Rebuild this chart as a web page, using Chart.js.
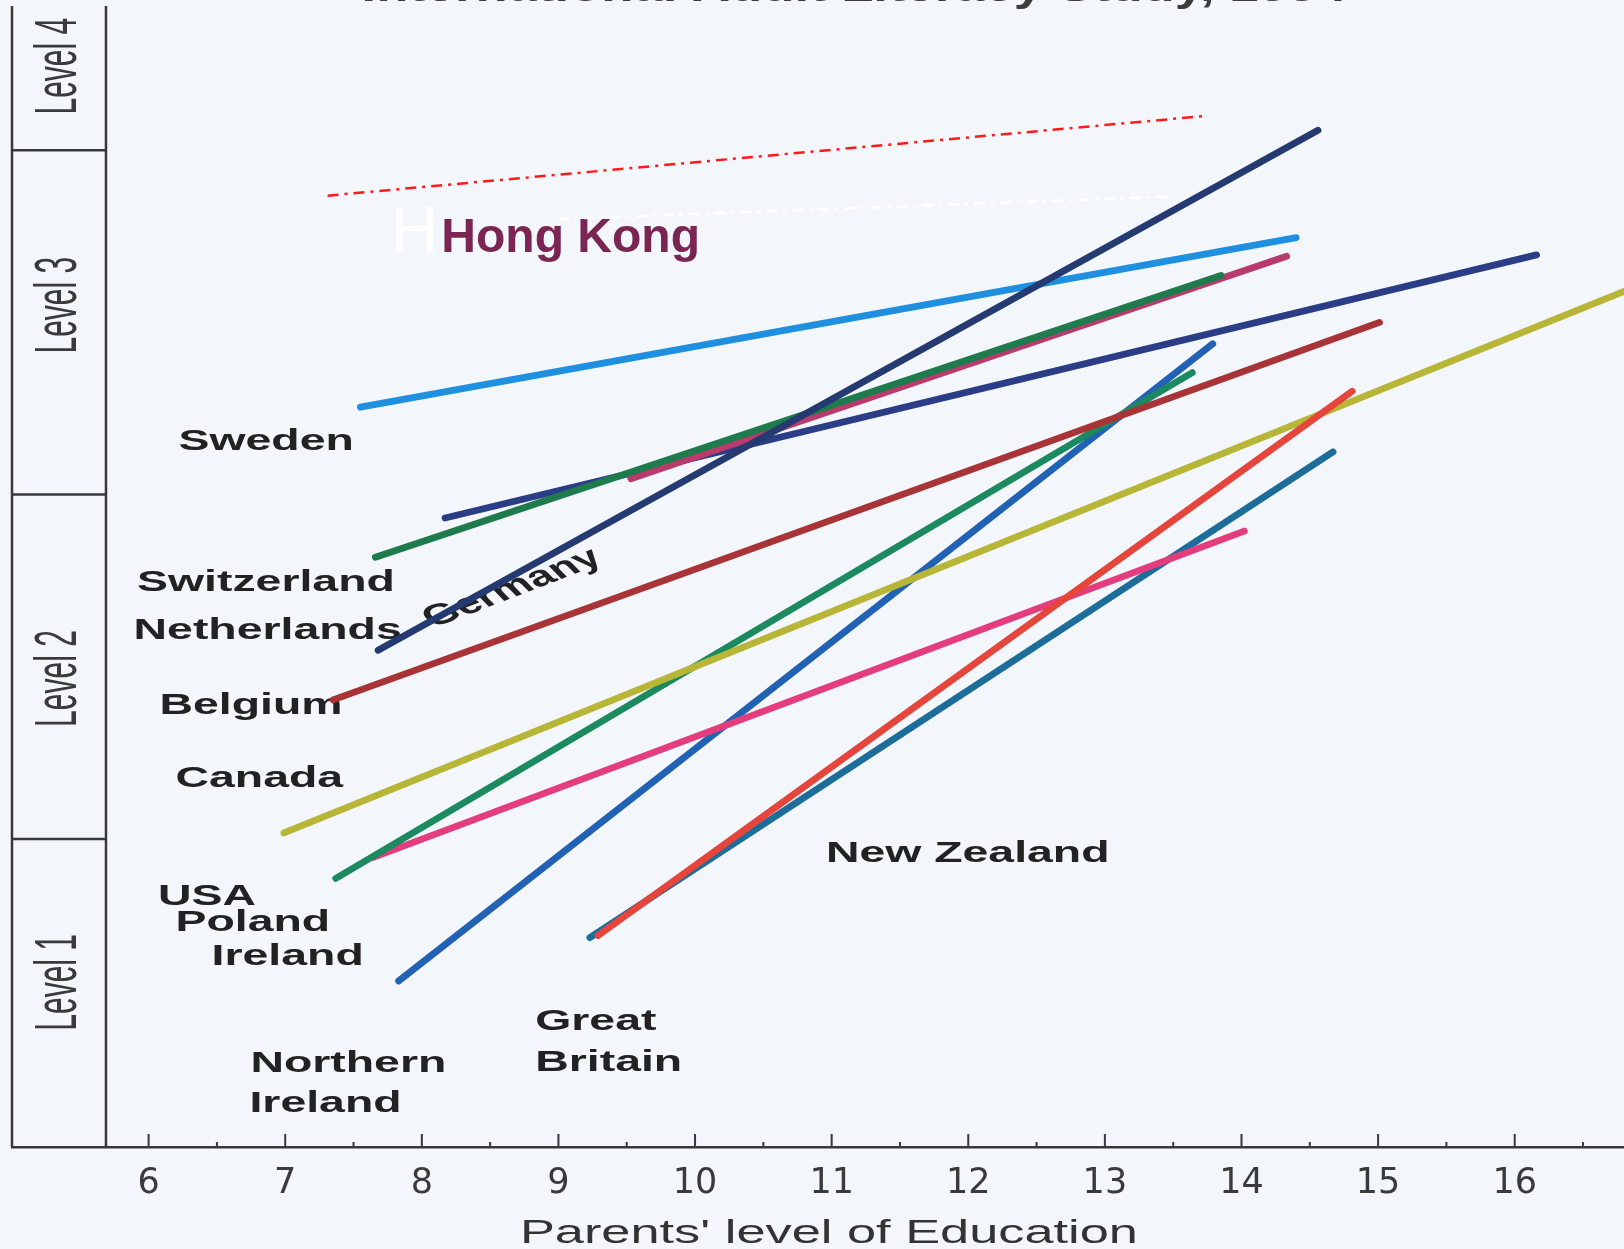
<!DOCTYPE html>
<html>
<head>
<meta charset="utf-8">
<title>Literacy by parents' education</title>
<script src="https://cdn.jsdelivr.net/npm/chart.js@4.4.1/dist/chart.umd.min.js"></script>
<style>
  html, body { margin: 0; padding: 0; background: #f3f6fb; overflow: hidden; }
  #wrap { width: 1624px; height: 1249px; }
</style>
</head>
<body>
<div id="wrap"><canvas id="chart-area"></canvas></div>
<script>
// one straight gradient line per country
// x = parents' years of education, y = literacy score (levels cut at 225 / 275 / 325)
var countries = ['Germany', 'Sweden', 'Switzerland', 'New Zealand', 'Netherlands', 'Belgium',
                 'Great Britain', 'Canada', 'USA', 'Poland', 'Ireland', 'Northern Ireland'];
var startX = [7.68, 7.55, 7.66, 9.53, 8.17, 7.35, 9.29, 6.99, 7.37, 7.64, 7.83, 9.23];
var startY = [252.4, 287.7, 265.9, 277.3, 271.6, 245.2, 211.0, 225.9, 219.3, 222.3, 204.4, 210.7];
var endX = [14.56, 14.40, 13.85, 14.33, 16.16, 15.01, 14.81, 16.85, 13.64, 14.02, 13.79, 14.67];
var endY = [327.9, 312.3, 306.8, 309.6, 309.8, 300.0, 290.0, 304.9, 292.7, 269.7, 296.9, 281.2];

// Hong Kong, added later as a dash-dot line, and a faint white trace below it
var hkX = [7.31, 13.75];
var hkY = [318.4, 330.0];
var traceX = [9.0, 13.5];
var traceY = [315.0, 318.3];

var xTicks = [6, 7, 8, 9, 10, 11, 12, 13, 14, 15, 16];
var levelNames = ['Level 1', 'Level 2', 'Level 3', 'Level 4'];
var levelCuts = [225, 275, 325];

var lineColors = ['#243a70', '#1f8fe0', '#1e7b4c', '#b93a6c', '#2b3d86', '#a93438',
                  '#e5453b', '#b7b637', '#1b8a5e', '#e53c7e', '#2262b5', '#1d6d9b'];

function seg(xs, ys) {
  return xs.map(function (v, i) { return { x: v, y: ys[i] }; });
}

var datasets = countries.map(function (name, i) {
  return {
    label: name,
    data: seg([startX[i], endX[i]], [startY[i], endY[i]]),
    borderColor: lineColors[i],
    borderWidth: 6.8,
    borderCapStyle: 'round',
    pointRadius: 0,
    tension: 0
  };
});
datasets.push({
  label: 'Hong Kong',
  data: seg(hkX, hkY),
  borderColor: '#ff1a1a',
  borderWidth: 2.5,
  borderDash: [11, 6, 3, 6],
  pointRadius: 0
});
datasets.push({
  label: 'trace',
  data: seg(traceX, traceY),
  borderColor: '#ffffff',
  borderWidth: 2.5,
  borderDash: [11, 6, 3, 6],
  pointRadius: 0
});

// free-floating country names (left edge, vertical middle, in data units)
var notes = [
  { t: 'Sweden', x: 6.219, y: 282.6 },
  { t: 'Switzerland', x: 5.915, y: 262.2 },
  { t: 'Netherlands', x: 5.890, y: 255.2 },
  { t: 'Belgium', x: 6.080, y: 244.3 },
  { t: 'Canada', x: 6.197, y: 233.7 },
  { t: 'USA', x: 6.069, y: 216.6 },
  { t: 'Poland', x: 6.197, y: 212.8 },
  { t: 'Ireland', x: 6.461, y: 207.9 },
  { t: 'Northern', x: 6.745, y: 192.3 },
  { t: 'Ireland', x: 6.738, y: 186.5 },
  { t: 'Great', x: 8.830, y: 198.4 },
  { t: 'Britain', x: 8.830, y: 192.5 },
  { t: 'New Zealand', x: 10.958, y: 222.9 }
];
var levelMid = [204.2, 248.3, 302.5, 337.2];

function drawText(ctx, txt, px, py, opt) {
  ctx.save();
  ctx.font = opt.font;
  ctx.fillStyle = opt.color;
  ctx.textAlign = opt.align || 'left';
  ctx.textBaseline = opt.base || 'middle';
  ctx.translate(px, py);
  var sx = opt.width ? opt.width / ctx.measureText(txt).width : (opt.sx || 1);
  ctx.scale(sx, 1);
  if (opt.rot) ctx.rotate(opt.rot);
  ctx.fillText(txt, 0, 0);
  ctx.restore();
}

var decor = {
  id: 'decor',
  beforeDraw: function (chart) {
    var ctx = chart.ctx;
    ctx.save();
    ctx.fillStyle = '#f3f6fb';
    ctx.fillRect(0, 0, chart.width, chart.height);
    ctx.restore();
  },
  beforeDatasetsDraw: function (chart) {
    var ctx = chart.ctx, xs = chart.scales.x, ys = chart.scales.y, a = chart.chartArea;
    var boxL = a.left, boxR = xs.getPixelForValue(5.688);

    // level box on the left
    ctx.save();
    ctx.strokeStyle = '#383838';
    ctx.lineWidth = 2.5;
    ctx.beginPath();
    ctx.moveTo(boxL, a.top + 6); ctx.lineTo(boxL, a.bottom);
    ctx.moveTo(boxR, a.top + 6); ctx.lineTo(boxR, a.bottom);
    levelCuts.forEach(function (c) {
      var py = ys.getPixelForValue(c);
      ctx.moveTo(boxL, py); ctx.lineTo(boxR, py);
    });
    ctx.stroke();

    // tick marks pointing up from the x axis
    ctx.lineWidth = 2;
    ctx.beginPath();
    for (var v = 6; v <= 16.5; v += 0.5) {
      var px = xs.getPixelForValue(v);
      var len = (v % 1 === 0) ? 13 : 5;
      ctx.moveTo(px, a.bottom); ctx.lineTo(px, a.bottom - len);
    }
    ctx.stroke();
    ctx.restore();

    levelNames.forEach(function (name, i) {
      drawText(ctx, name, (boxL + boxR) / 2, ys.getPixelForValue(levelMid[i]),
        { font: '30px "Liberation Sans"', color: '#3a3a3a', align: 'center', sx: 2.0, rot: -Math.PI / 2 });
    });

    notes.forEach(function (n) {
      drawText(ctx, n.t, xs.getPixelForValue(n.x), ys.getPixelForValue(n.y),
        { font: 'bold 29px "Liberation Sans"', color: '#222', sx: 1.6 });
    });
    var gAng = Math.atan(1.6 * Math.tan(21 * Math.PI / 180));
    drawText(ctx, 'Germany', xs.getPixelForValue(8.663), ys.getPixelForValue(261.4),
      { font: 'bold 29px "Liberation Sans"', color: '#222', align: 'center', sx: 1.6, rot: -gAng });

    drawText(ctx, 'H', xs.getPixelForValue(7.777), ys.getPixelForValue(310.2),
      { font: '65px "Liberation Sans"', color: '#ffffff', base: 'alphabetic' });
    drawText(ctx, 'Hong Kong', xs.getPixelForValue(8.143), ys.getPixelForValue(310.2),
      { font: 'bold 48px "Liberation Sans"', color: '#7a2552', base: 'alphabetic' });
  },
  afterDraw: function (chart) {
    var ctx = chart.ctx, xs = chart.scales.x;
    drawText(ctx, 'International Adult Literacy Study, 1994', 854, 1,
      { font: 'bold 40px "Liberation Sans"', color: '#3c3c3c', align: 'center', base: 'alphabetic', width: 985 });
    drawText(ctx, "Parents' level of Education", xs.getPixelForValue(10.98), 1243,
      { font: '34px "Liberation Sans"', color: '#333', align: 'center', base: 'alphabetic', width: 618 });
  }
};

var config = {
  type: 'line',
  data: { datasets: datasets },
  options: {
    responsive: true,
    maintainAspectRatio: false,
    devicePixelRatio: 1,
    animation: false,
    layout: { padding: { left: 12, right: 0, top: 0, bottom: 0 } },
    scales: {
      x: {
        type: 'linear',
        min: 5,
        max: 16.8,
        border: { display: true, color: '#383838', width: 2.5 },
        grid: { display: true, drawOnChartArea: false, drawTicks: false },
        ticks: {
          font: { family: 'DejaVu Sans', size: 35 },
          color: '#3a3a3a',
          padding: 16
        },
        afterBuildTicks: function (s) {
          s.ticks = xTicks.map(function (v) { return { value: v }; });
        },
        afterFit: function (s) { s.height = 102; }
      },
      y: {
        type: 'linear',
        min: 180.3,
        max: 346.8,
        display: false
      }
    },
    plugins: {
      legend: { display: false },
      tooltip: { enabled: false }
    }
  },
  plugins: [decor]
};

window.onload = function () {
  var ctx = document.getElementById('chart-area').getContext('2d');
  window.myChart = new Chart(ctx, config);
};
</script>
</body>
</html>
